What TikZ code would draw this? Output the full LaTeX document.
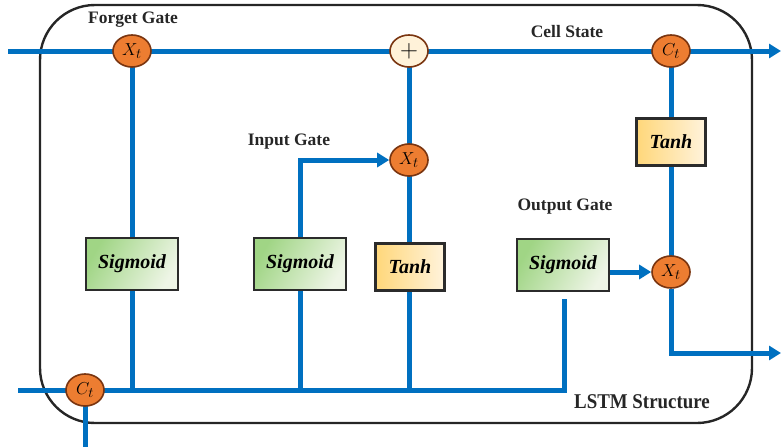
\documentclass[tikz,border=0pt]{standalone}
\usepackage{fontspec}
\setmainfont{Liberation Serif}
\usetikzlibrary{arrows.meta,shapes.geometric}
\definecolor{flow}{HTML}{0070C0}
\definecolor{opfill}{HTML}{ED7D31}
\definecolor{opedge}{HTML}{7A3510}
\definecolor{sumfill}{HTML}{FFF2D9}
\definecolor{sigdark}{HTML}{A0D585}
\definecolor{siglight}{HTML}{EEF5E6}
\definecolor{tanhdark}{HTML}{FFD77A}
\definecolor{tanhlight}{HTML}{FFF3DC}
\definecolor{boxedge}{HTML}{2B2B2B}
\tikzset{
  wire/.style={draw=flow, line width=5pt},
  arrowwire/.style={wire, -{Triangle[length=12pt,width=14pt]}},
  opnode/.style={ellipse, draw=opedge, line width=1.6pt, fill=opfill,
    minimum width=38pt, minimum height=32pt, inner sep=0pt,
    font=\fontsize{19}{21}\selectfont},
  sumnode/.style={opnode, fill=sumfill, font=\fontsize{24}{26}\selectfont},
  sigbox/.style={draw=boxedge, line width=2.6pt, left color=sigdark, right color=siglight,
    shading angle=60, minimum width=92pt, minimum height=52pt,
    font=\fontsize{20}{22}\selectfont\bfseries\itshape},
  tanhbox/.style={sigbox, left color=tanhdark, right color=tanhlight,
    minimum width=69pt, minimum height=47pt},
  label/.style={font=\fontsize{17.5}{19}\selectfont\bfseries, text=black!85},
}
\begin{document}
\begin{tikzpicture}[x=1pt,y=-1pt]
\useasboundingbox (0,0) rectangle (781,447);

% outer frame of the cell
\draw[line width=2.4pt, draw=black!85, rounded corners=55pt] (40,5) rectangle (752,423);

% free ends and corners
\coordinate (cin) at (8,51);
\coordinate (cout) at (781,51);
\coordinate (hin) at (18,390);
\coordinate (hdown) at (85,447);
\coordinate (hout) at (781,353);
\coordinate (obus) at (564,299);
\coordinate (fxc) at (132,51);
\coordinate (plusc) at (409,51);
\coordinate (ctc) at (671,51);
\coordinate (ixc) at (409,160);
\coordinate (oxc) at (671,272);
\coordinate (cbc) at (85,390);

% wires first, so operator nodes sit on top of them
\draw[wire] (cin) -- (fxc) -- (plusc) -- (ctc);
\draw[arrowwire] (ctc) -- (cout);
\draw[wire] (hin) -- (cbc) -- (obus |- cbc) -- (obus);
\draw[wire] (cbc) -- (hdown);
\draw[wire] (fxc) -- (fxc |- cbc);
\draw[wire] (plusc) -- (plusc |- cbc);
\draw[wire] (300,390) -- (300,240);
\draw[wire] (ctc) -- (oxc);

% operator nodes
\node[opnode] (fx) at (fxc) {$X_t$};
\node[sumnode] (plus) at (plusc) {$+$};
\node[opnode] (ct) at (ctc) {$C_t$};
\node[opnode] (ix) at (ixc) {$X_t$};
\node[opnode] (ox) at (oxc) {$X_t$};
\node[opnode] (cb) at (cbc) {$C_t$};

% activation boxes
\node[sigbox] (fs) at (132,264) {Sigmoid};
\node[sigbox] (is) at (300,264) {Sigmoid};
\node[tanhbox] (it) at (410,267) {Tanh};
\node[sigbox] (os) at (563,265) {Sigmoid};
\node[tanhbox] (ctanh) at (671,142) {Tanh};

% labels
\node[label] (lf) at (133,20) {Forget Gate};
\node[label] (lc) at (567,32) {Cell State};
\node[label] (li) at (289,142) {Input Gate};
\node[label] (lo) at (565,207) {Output Gate};
\node[font=\fontsize{21}{23}\selectfont\bfseries, text=black!85, xscale=0.9] (ls) at (642,402) {LSTM Structure};

% gate arrows
\draw[arrowwire] (is.north) -- (is.north |- ix) -- (ix);
\draw[arrowwire] (os.east |- ox) -- (ox);
\draw[arrowwire] (ox) -- (ox |- hout) -- (hout);
\end{tikzpicture}
\end{document}
